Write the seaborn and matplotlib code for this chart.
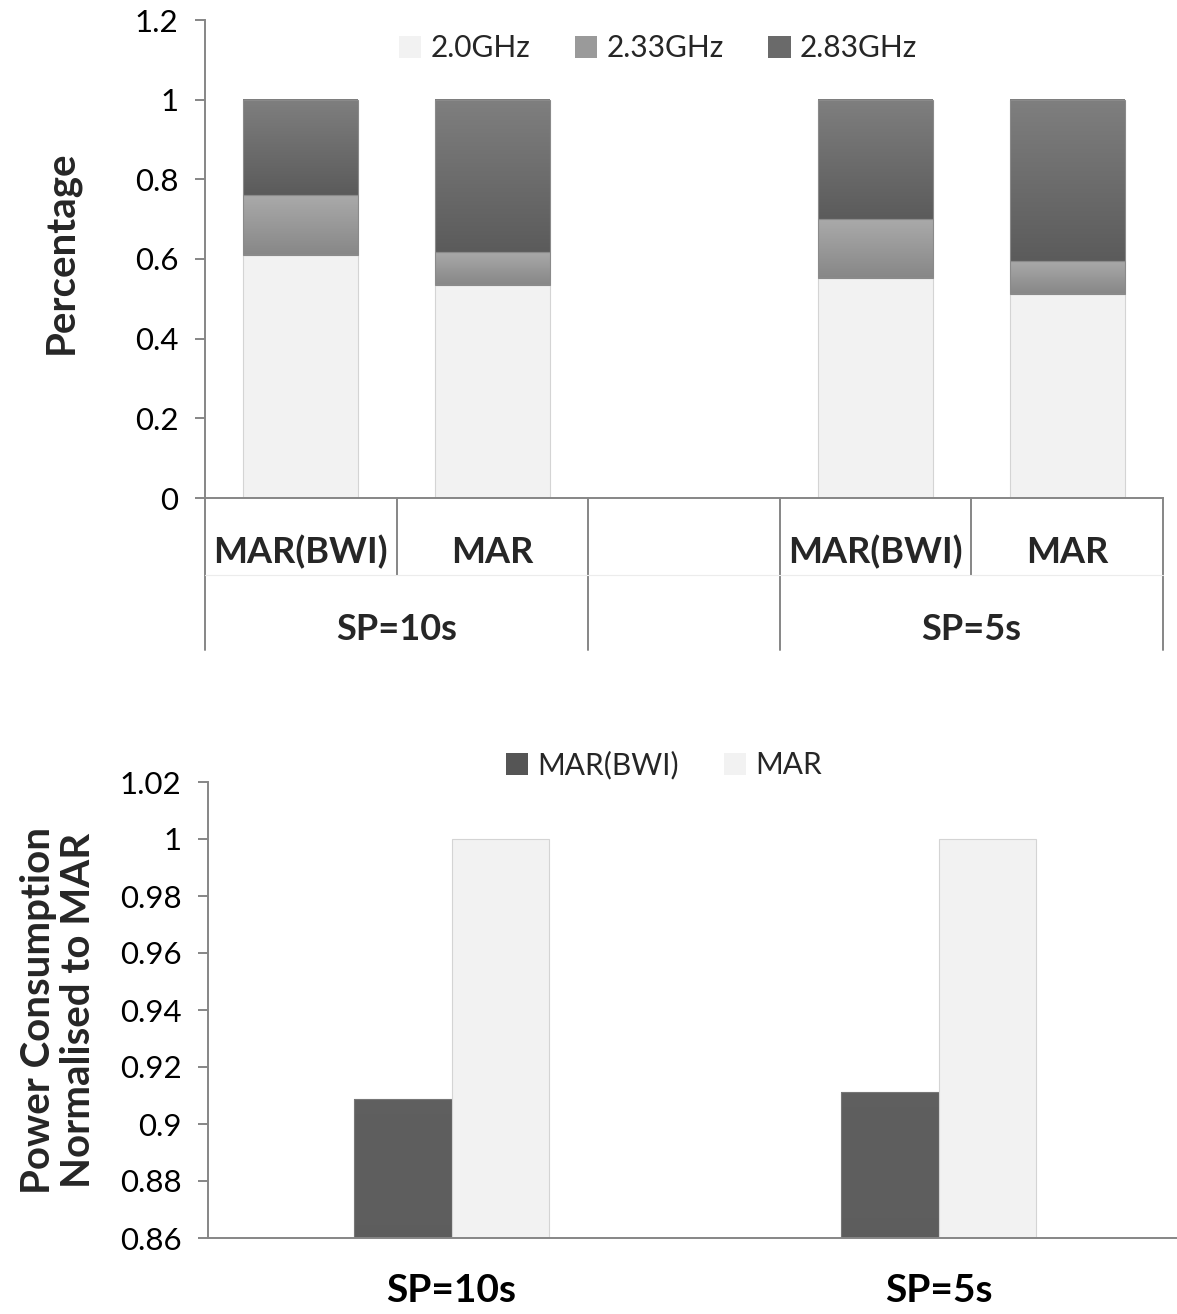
import numpy as np
import pandas as pd
import matplotlib
matplotlib.use("Agg")
import matplotlib.pyplot as plt
import seaborn as sns
from matplotlib.colors import LinearSegmentedColormap
from matplotlib.patches import Patch
import matplotlib.transforms as mtransforms

# ---------------- data ----------------
methods = ["MAR(BWI)", "MAR"]
periods = ["SP=10s", "SP=5s"]
freq_labels = ["2.0GHz", "2.33GHz", "2.83GHz"]
# order of stacked bars: (SP=10s,MAR(BWI)), (SP=10s,MAR), (SP=5s,MAR(BWI)), (SP=5s,MAR)
share_20 = [0.610, 0.535, 0.553, 0.511]
share_233 = [0.150, 0.083, 0.147, 0.083]
share_283 = [0.240, 0.382, 0.300, 0.406]
power_bwi = [0.9087, 0.9112]
power_mar = [1.0, 1.0]
pct_ticks = [0, 0.2, 0.4, 0.6, 0.8, 1.0, 1.2]
pct_tick_labels = ["0", "0.2", "0.4", "0.6", "0.8", "1", "1.2"]
pow_ticks = [0.86, 0.88, 0.90, 0.92, 0.94, 0.96, 0.98, 1.00, 1.02]
pow_tick_labels = ["0.86", "0.88", "0.9", "0.92", "0.94", "0.96", "0.98", "1", "1.02"]

# ---------------- style ----------------
sns.set_theme(style="white")
plt.rcParams["font.family"] = ["Lato", "DejaVu Sans"]
AX_COL = "#868686"
FS_TICK = 22.5
FS_BOLD = 26
FS_YLAB = 29

fig = plt.figure(figsize=(11.77, 13.14), dpi=100)
W, H = 1177, 1314
ax1 = fig.add_axes([205 / W, 1 - 498 / H, (1163 - 205) / W, (498 - 20) / H])
ax2 = fig.add_axes([208 / W, 1 - 1238 / H, 974 / W, (1238 - 782) / H])

light_col = "#f2f2f2"
mid_grad = ("#aaaaaa", "#878787")     # top, bottom
dark_grad = ("#7f7f7f", "#5b5b5b")
darkest_grad = ("#5f5f5f", "#494949")


def gradient_bars(ax, bars, top_c, bot_c):
    cmap = LinearSegmentedColormap.from_list("g", [bot_c, top_c])
    grad = np.linspace(0, 1, 256).reshape(-1, 1)
    for b in bars:
        x0, y0, w, h = b.get_x(), b.get_y(), b.get_width(), b.get_height()
        ax.imshow(grad, extent=[x0, x0 + w, y0, y0 + h], origin="lower",
                  aspect="auto", cmap=cmap, zorder=b.get_zorder() - 0.01,
                  interpolation="bilinear")
        b.set_facecolor("none")


# ---------------- top chart (stacked) ----------------
slot_order = ["10-BWI", "10-MAR", "gap", "5-BWI", "5-MAR"]
slot_keys = ["10-BWI", "10-MAR", "5-BWI", "5-MAR"]
bottoms_20 = [0.0] * 4
bottoms_233 = share_20
bottoms_283 = [a + b for a, b in zip(share_20, share_233)]

layers = [
    (share_20, bottoms_20, None),
    (share_233, bottoms_233, mid_grad),
    (share_283, bottoms_283, dark_grad),
]
for vals, bots, grad in layers:
    df = pd.DataFrame({"slot": slot_keys, "val": vals})
    sns.barplot(data=df, x="slot", y="val", order=slot_order,
                color=light_col if grad is None else grad[1],
                saturation=1, width=0.6, ax=ax1,
                edgecolor="#d4d4d4" if grad is None else "#8a8a8a", linewidth=0.8)
    cont = ax1.containers[-1]
    for bar in cont:
        cx = bar.get_x() + bar.get_width() / 2
        key = slot_order[int(round(cx))]
        bar.set_y(bots[slot_keys.index(key)])
    if grad is not None:
        gradient_bars(ax1, cont, grad[0], grad[1])

ax1.set_xlim(-0.5, 4.5)
ax1.set_ylim(0, 1.2)
ax1.set_yticks(pct_ticks)
ax1.set_yticklabels(pct_tick_labels, fontsize=FS_TICK)
ax1.set_xticks([])
ax1.set_xlabel("")
ax1.set_ylabel("Percentage", fontsize=FS_YLAB, fontweight="bold")
ax1.yaxis.set_label_coords(
    80 / W, 0.515,
    transform=mtransforms.blended_transform_factory(fig.transFigure, ax1.transAxes))
for s in ["top", "right"]:
    ax1.spines[s].set_visible(False)
for s in ["left", "bottom"]:
    ax1.spines[s].set_color(AX_COL)
    ax1.spines[s].set_linewidth(1.4)
ax1.tick_params(axis="y", left=True, direction="out", length=7, width=1.4,
                color=AX_COL, pad=12, labelcolor="black")

# multi-level category axis
trans = mtransforms.blended_transform_factory(ax1.transData, ax1.transAxes)
long_sep = [-0.5, 1.5, 2.5, 4.5]
short_sep = [0.5, 3.5]
for xs in long_sep:
    ax1.plot([xs, xs], [0, -0.318], transform=trans, color=AX_COL, lw=1.4, clip_on=False)
for xs in short_sep:
    ax1.plot([xs, xs], [0, -0.161], transform=trans, color=AX_COL, lw=1.4, clip_on=False)
ax1.plot([-0.5, 4.5], [-0.161, -0.161], transform=trans, color="#ececec", lw=0.8, clip_on=False)
slot_method = {"10-BWI": methods[0], "10-MAR": methods[1], "5-BWI": methods[0], "5-MAR": methods[1]}
for key in slot_keys:
    ax1.text(slot_order.index(key), -0.113, slot_method[key], transform=trans,
             ha="center", va="center", fontsize=FS_BOLD, fontweight="bold")
ax1.text(0.5, -0.276, periods[0], transform=trans, ha="center", va="center",
         fontsize=FS_BOLD, fontweight="bold")
ax1.text(3.5, -0.276, periods[1], transform=trans, ha="center", va="center",
         fontsize=FS_BOLD, fontweight="bold")

leg1 = [Patch(facecolor=light_col, edgecolor="none"),
        Patch(facecolor="#9a9a9a", edgecolor="none"),
        Patch(facecolor="#6a6a6a", edgecolor="none")]
ax1.legend(leg1, freq_labels, ncol=3, frameon=False, loc="center",
           bbox_to_anchor=(658 / W, 1 - 48 / H), bbox_transform=fig.transFigure,
           fontsize=21.5, handlelength=0.75, handleheight=0.75, handletextpad=0.3,
           columnspacing=1.5)

# ---------------- bottom chart ----------------
df2 = pd.DataFrame({
    "period": periods * 2,
    "method": [methods[0]] * 2 + [methods[1]] * 2,
    "power": power_bwi + power_mar,
})
sns.barplot(data=df2, x="period", y="power", hue="method", order=periods,
            hue_order=methods, palette=[darkest_grad[1], light_col], saturation=1,
            width=0.4, gap=0, ax=ax2, edgecolor="#d4d4d4", linewidth=0.8, legend=False)
ax2.set_ylim(0.86, 1.02)
ax2.set_xlim(-0.5, 1.5)
gradient_bars(ax2, ax2.containers[0], darkest_grad[0], darkest_grad[1])
for b in ax2.containers[0]:
    b.set_edgecolor("#777777")
ax2.set_ylim(0.86, 1.02)
ax2.set_xlim(-0.5, 1.5)
ax2.set_yticks(pow_ticks)
ax2.set_yticklabels(pow_tick_labels, fontsize=FS_TICK)
ax2.set_xticks([0, 1])
ax2.set_xticklabels(periods, fontsize=28, fontweight="bold")
ax2.set_xlabel("")
ax2.set_ylabel("Power Consumption\nNormalised to MAR", fontsize=FS_YLAB,
               fontweight="bold", linespacing=1.1)
ax2.yaxis.set_label_coords(
    97 / W, 0.5,
    transform=mtransforms.blended_transform_factory(fig.transFigure, ax2.transAxes))
for s in ["top", "right"]:
    ax2.spines[s].set_visible(False)
for s in ["left", "bottom"]:
    ax2.spines[s].set_color(AX_COL)
    ax2.spines[s].set_linewidth(1.4)
ax2.tick_params(axis="y", left=True, direction="out", length=7, width=1.4,
                color=AX_COL, pad=12, labelcolor="black")
ax2.tick_params(axis="x", bottom=False, pad=19, labelcolor="black")

leg2 = [Patch(facecolor="#555555", edgecolor="none"),
        Patch(facecolor=light_col, edgecolor="none")]
ax2.legend(leg2, methods, ncol=2, frameon=False, loc="center",
           bbox_to_anchor=(664 / W, 1 - 765 / H), bbox_transform=fig.transFigure,
           fontsize=21.5, handlelength=0.75, handleheight=0.75, handletextpad=0.3,
           columnspacing=1.5)

fig.savefig("out.png", dpi=100, facecolor="white")
